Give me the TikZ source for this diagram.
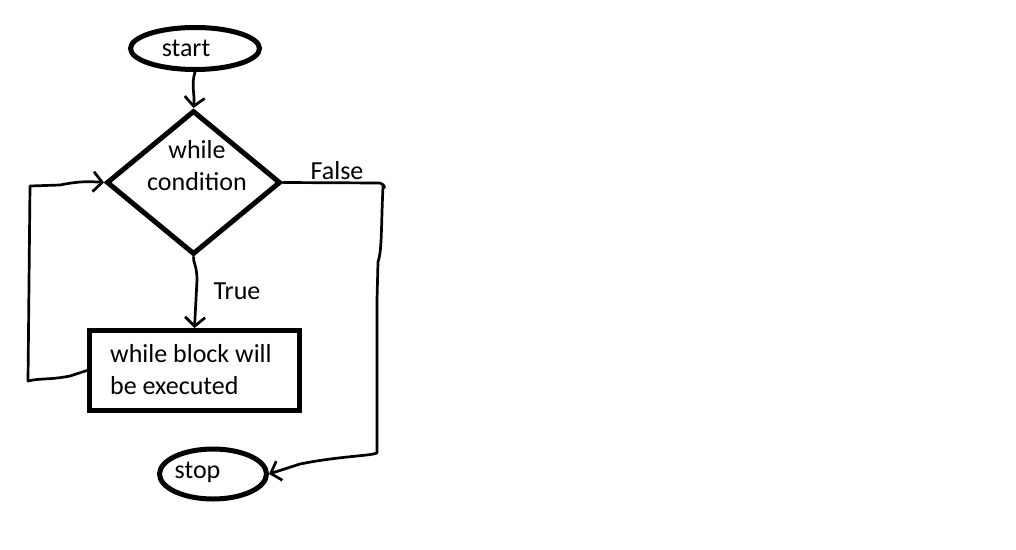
\documentclass[tikz,border=0pt]{standalone}
\usepackage{fontspec}
\setmainfont{Carlito}
\usetikzlibrary{shapes.geometric,arrows.meta}
\begin{document}
\begin{tikzpicture}[x=1pt,y=-1pt,
  every node/.style={font=\fontsize{26}{32}\selectfont, inner sep=0pt},
  term/.style={draw, ellipse, line width=5pt, minimum width=129pt, minimum height=42pt},
  decision/.style={draw, diamond, line width=5pt, minimum width=174pt, minimum height=144pt, aspect=1.2},
  block/.style={draw, rectangle, line width=5pt, minimum width=210pt, minimum height=80pt},
  conn/.style={line width=2.7pt, line join=round, line cap=round},
  arr/.style={conn, -{Straight Barb[length=9pt,width=20pt]}},
  lbl/.style={font=\fontsize{26}{32}\selectfont}]
\useasboundingbox[fill=white] (0,0) rectangle (1016,549);

\node[term] (start) at (195,48.5) {};
\node at (186,48) (starttext) {start};

\node[decision] (cond) at (193.5,182.5) {};
\node[align=center] at (197,166) (condtext) {while\\condition};

\node[block] (body) at (194.5,370.5) {};
\node[align=left, anchor=west] at (110,370) (bodytext) {while block will\\be executed};

\node[term, minimum width=107pt, minimum height=50pt] (stop) at (213,474) {};
\node at (197.5,472) (stoptext) {stop};

\coordinate (ftop) at (383,186);
\coordinate (fbot) at (377,453);
\coordinate (lbot) at (28,381);
\coordinate (ltop) at (30,186);

% start -> condition
\draw[arr] (start.south) .. controls (191,85) and (195,95) .. (cond.north);
% condition -> body (True)
\draw[arr] (cond.south) .. controls (193,262) and (197,266) .. (197,280) -- (body.north);
\node[lbl] (truelbl) at (237,291) {True};
% condition -> stop (False)
\draw[arr] (cond.east) -- (380,183) .. controls (386,185) and (385,190) .. (ftop)
  .. controls (381,230) and (382,250) .. (378,262) -- (377,300) -- (fbot)
  .. controls (370,456) and (340,456) .. (300,464) -- (stop.east);
\node[lbl] (falselbl) at (337,171) {False};
% body -> condition (loop back)
\draw[arr] (body.west) -- (70,376) .. controls (50,380) and (40,378) .. (lbot)
  -- (ltop) -- (60,185) .. controls (75,182) and (85,181) .. (cond.west);
\end{tikzpicture}
\end{document}
